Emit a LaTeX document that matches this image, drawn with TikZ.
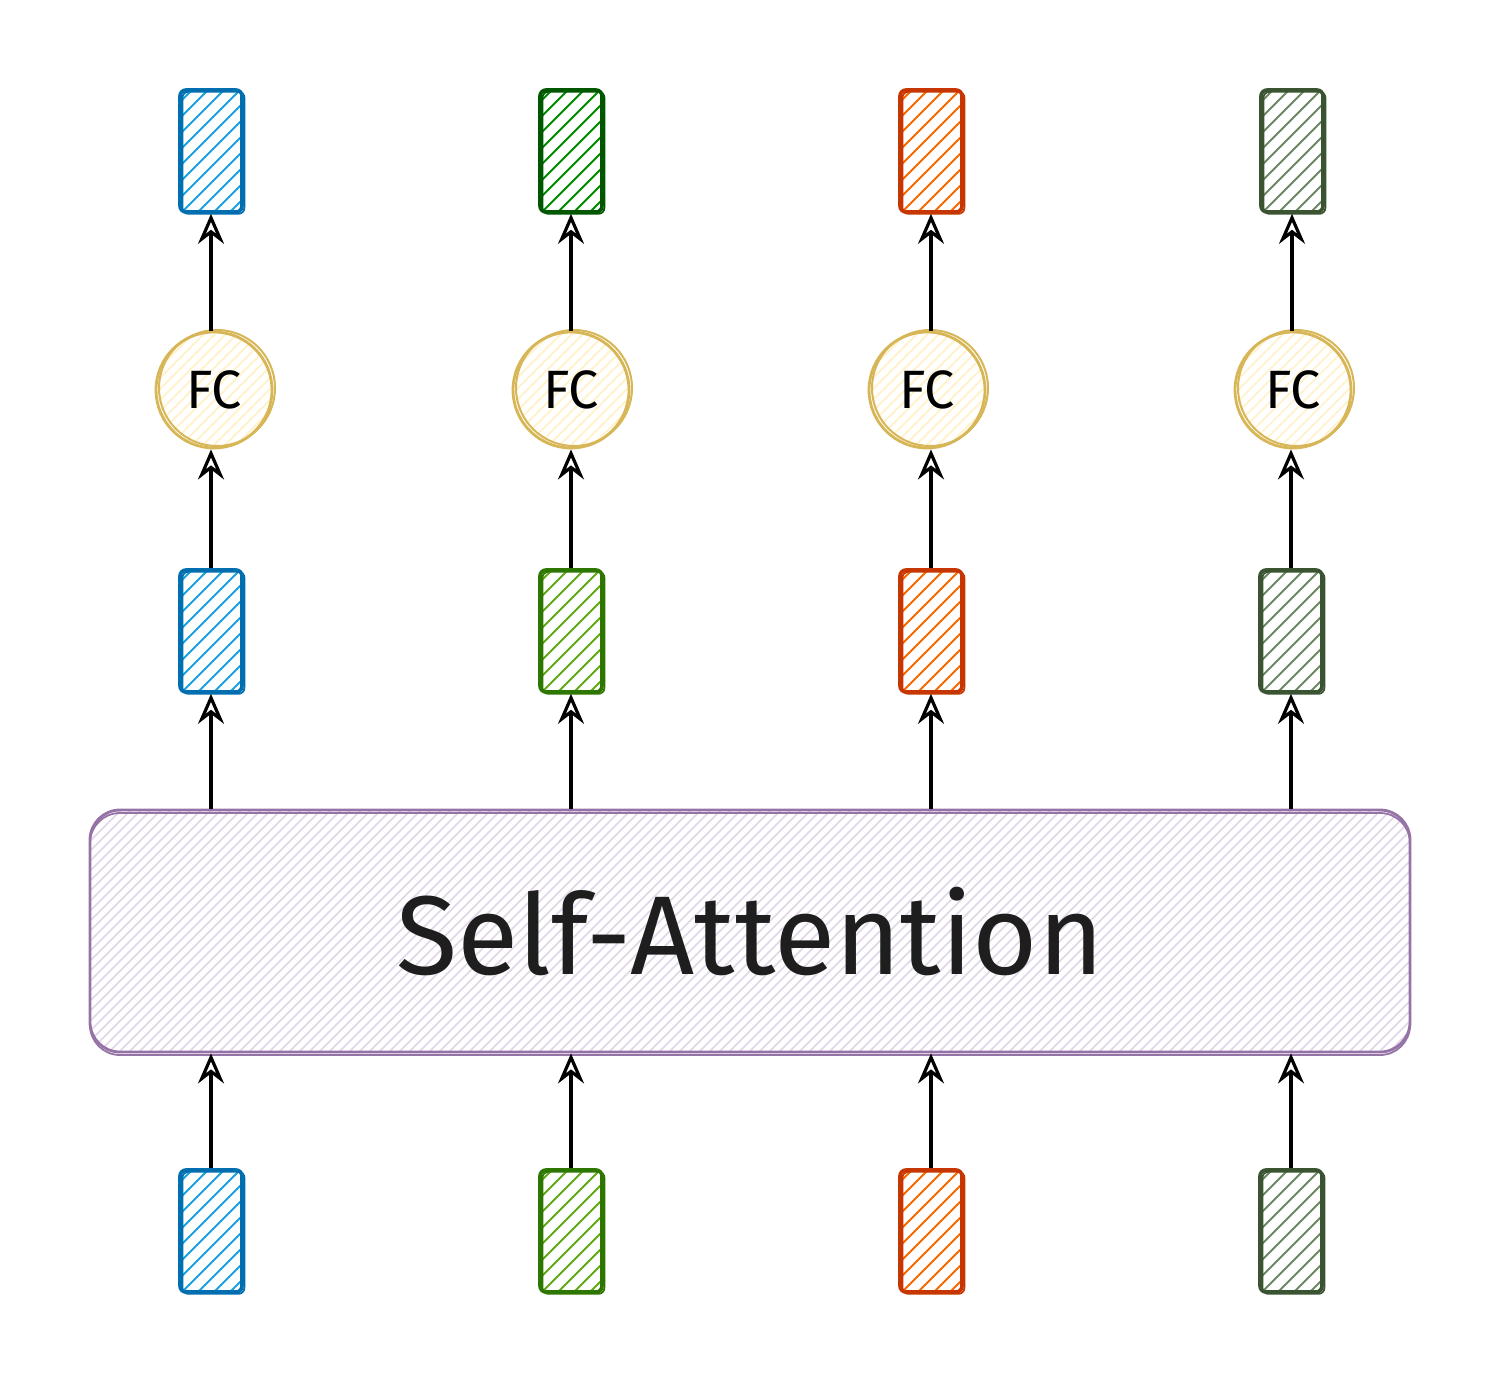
\documentclass[tikz,border=0pt]{standalone}
\usepackage{fontspec}
\setmainfont{Fira Sans}
\usetikzlibrary{arrows.meta,calc}
\definecolor{blueS}{HTML}{006EAF}\definecolor{blueF}{HTML}{1BA1E2}
\definecolor{dgreenS}{HTML}{005700}\definecolor{dgreenF}{HTML}{008A00}
\definecolor{lgreenS}{HTML}{2D7600}\definecolor{lgreenF}{HTML}{60A917}
\definecolor{orangeS}{HTML}{C73500}\definecolor{orangeF}{HTML}{FA6800}
\definecolor{oliveS}{HTML}{3A5431}\definecolor{oliveF}{HTML}{6D8764}
\definecolor{fcS}{HTML}{D6B656}\definecolor{fcF}{HTML}{FFF2CC}
\definecolor{saS}{HTML}{9673A6}\definecolor{saF}{HTML}{E1D5E7}
\definecolor{txt}{HTML}{1E1E1E}
% hatch: colour, count, step, half-length, line width
\newcommand{\myhatch}[5]{\foreach \i [evaluate=\i as \t using \i*#3] in {-#2,...,#2}{\draw[#1, line width=#5] ($(path picture bounding box.center)+(\t-#4,#4)$) -- ++(2*#4,-2*#4);}}
\begin{document}
\begin{tikzpicture}[x=0.5pt,y=-0.5pt,
  vec/.style n args={2}{draw=#1, line width=1.8pt, minimum width=31pt, minimum height=61pt, inner sep=0pt, rounded corners=3pt,
    path picture={\myhatch{#2}{6}{16}{100}{1pt}},
    postaction={draw=#1, line width=0.9pt, transform canvas={shift={(1.2pt,-0.9pt)}}}},
  fcnode/.style={circle, draw=fcS, line width=1.4pt, minimum size=58pt, inner sep=0pt,
    font=\fontsize{27}{27}\selectfont, text=black,
    path picture={\myhatch{fcF}{8}{11}{70}{0.9pt}},
    postaction={draw=fcS, line width=1pt, transform canvas={shift={(1.5pt,1pt)}}}},
  sabox/.style={draw=saS, line width=1.4pt, rounded corners=15pt, minimum width=660pt, minimum height=121pt, inner sep=0pt,
    font=\fontsize{56}{56}\selectfont, text=txt,
    path picture={\myhatch{saF}{79}{10}{130}{0.75pt}},
    postaction={draw=saS, line width=0.9pt, transform canvas={shift={(0pt,-1.5pt)}}}},
  arr/.style={draw=black, line width=1.6pt, -{Stealth[open, length=15pt, width=13pt, inset=5pt, line width=1.6pt]}},
]
\useasboundingbox (0,0) rectangle (1503,1386);
% columns
\node[vec={blueS}{blueF}] (t1) at (211,151) {};
\node[vec={dgreenS}{dgreenF}] (t2) at (571,151) {};
\node[vec={orangeS}{orangeF}] (t3) at (931,151) {};
\node[vec={oliveS}{oliveF}] (t4) at (1292,151) {};
\node[fcnode] (c1) at (214,390) {FC};
\node[fcnode] (c2) at (571,390) {FC};
\node[fcnode] (c3) at (927,390) {FC};
\node[fcnode] (c4) at (1293,390) {FC};
\node[vec={blueS}{blueF}] (m1) at (211,631) {};
\node[vec={lgreenS}{lgreenF}] (m2) at (571,631) {};
\node[vec={orangeS}{orangeF}] (m3) at (931,631) {};
\node[vec={oliveS}{oliveF}] (m4) at (1291,631) {};
\node[sabox] (sa) at (750,931) {Self-Attention};
\node[vec={blueS}{blueF}] (b1) at (211,1231) {};
\node[vec={lgreenS}{lgreenF}] (b2) at (571,1231) {};
\node[vec={orangeS}{orangeF}] (b3) at (931,1231) {};
\node[vec={oliveS}{oliveF}] (b4) at (1291,1231) {};
% arrows
\foreach \k in {1,2,3,4}{
  \draw[arr] (b\k.north) -- (b\k.north |- sa.south);
  \draw[arr] (m\k.south |- sa.north) -- (m\k.south);
  \draw[arr] (m\k.north) -- (m\k.north |- c\k.south);
  \draw[arr] (t\k.south |- c\k.north) -- (t\k.south);
}
\end{tikzpicture}
\end{document}
